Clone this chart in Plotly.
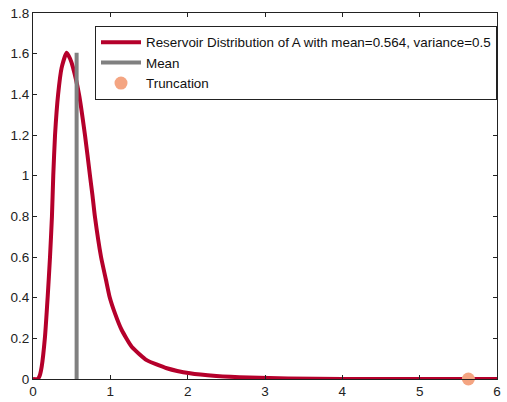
import plotly.graph_objects as go

# Reservoir distribution curve
dist_x = [0, 0.06, 0.085, 0.112, 0.155, 0.19, 0.22, 0.245, 0.262, 0.285, 0.325, 0.37,
          0.435, 0.48, 0.515, 0.595, 0.672, 0.737, 0.77, 0.80, 0.88, 0.944, 0.99,
          1.06, 1.147, 1.276, 1.47, 1.73, 2.03, 2.37, 2.8, 3.3, 4, 5, 6]
dist_y = [0, 0, 0.015, 0.06, 0.208, 0.405, 0.6, 0.8, 1.0, 1.2, 1.4, 1.53,
          1.605, 1.575, 1.535, 1.4, 1.2, 1.0, 0.9, 0.8, 0.6, 0.487, 0.405,
          0.323, 0.241, 0.159, 0.093, 0.053, 0.028, 0.015, 0.007, 0.003, 0, 0, 0]
mean_x = [0.564, 0.564]
mean_y = [0, 1.605]
trunc_x = [5.63]
trunc_y = [0]
x_ticks = [0, 1, 2, 3, 4, 5, 6]
y_ticks = [0, 0.2, 0.4, 0.6, 0.8, 1, 1.2, 1.4, 1.6, 1.8]
y_tick_text = ["0", "0.2", "0.4", "0.6", "0.8", "1", "1.2", "1.4", "1.6", "1.8"]

FONT = "Liberation Sans"

fig = go.Figure()
fig.add_trace(go.Scatter(x=dist_x, y=dist_y, mode="lines",
                         line=dict(color="#B5002B", width=4, shape="spline", smoothing=0.5),
                         name="Reservoir Distribution of A with mean=0.564, variance=0.5"))
fig.add_trace(go.Scatter(x=mean_x, y=mean_y, mode="lines",
                         line=dict(color="#808080", width=4),
                         name="Mean"))
fig.add_trace(go.Scatter(x=trunc_x, y=trunc_y, mode="markers",
                         marker=dict(color="#F4A582", size=13),
                         name="Truncation", cliponaxis=False))

axis_common = dict(showline=True, linecolor="#222222", linewidth=1, mirror="ticks",
                   ticks="inside", ticklen=4, tickcolor="#222222", showgrid=False,
                   zeroline=False, automargin=False,
                   tickfont=dict(family=FONT, size=13.5, color="#222222"))

fig.update_layout(
    width=507, height=402,
    margin=dict(l=33, r=10, t=13, b=23),
    paper_bgcolor="white", plot_bgcolor="white",
    font=dict(family=FONT, size=13.4, color="#111111"),
    xaxis=dict(range=[0, 6], tickvals=x_ticks, **axis_common),
    yaxis=dict(range=[0, 1.8], tickvals=y_ticks, ticktext=y_tick_text, **axis_common),
    legend=dict(x=1.0, y=0.9645, xanchor="right", yanchor="top",
                bordercolor="#222222", borderwidth=1, bgcolor="white",
                font=dict(family=FONT, size=13.4, color="#111111"),
                tracegroupgap=0, itemwidth=40),
    showlegend=True,
)

fig.write_html("out.html",
               config={"displayModeBar": False},
               post_script="document.body.style.margin='0';document.body.style.overflow='hidden';")
